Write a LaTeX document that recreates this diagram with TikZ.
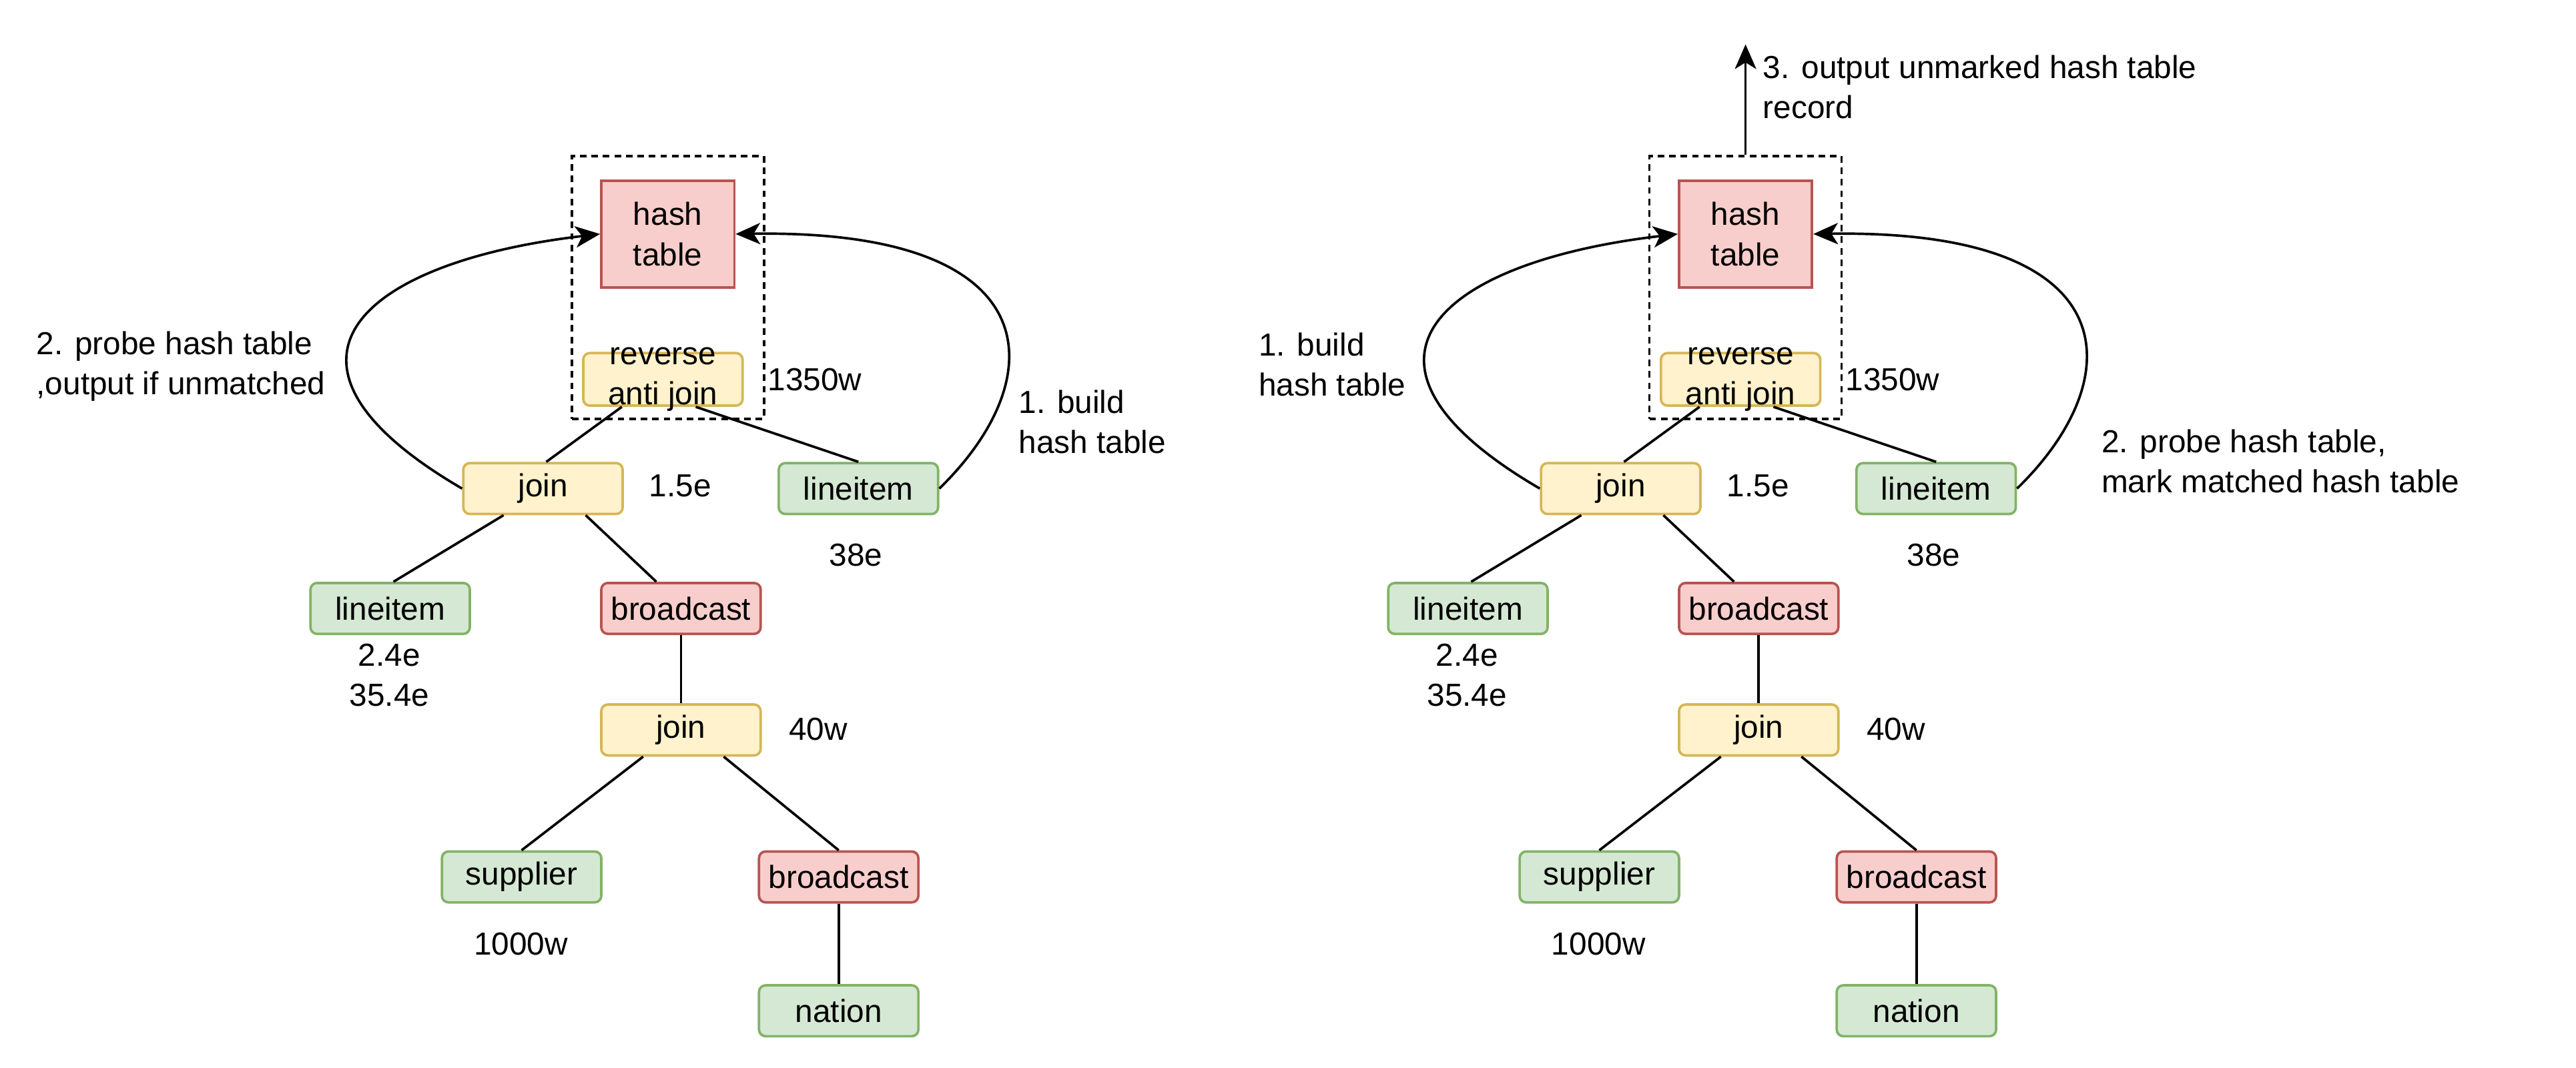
\documentclass[tikz,border=0pt]{standalone}
\usepackage{fontspec}
\setmainfont{Liberation Sans}
\usetikzlibrary{arrows.meta,calc}
\definecolor{rfill}{HTML}{F8CECC}\definecolor{rline}{HTML}{B85450}
\definecolor{yfill}{HTML}{FFF2CC}\definecolor{yline}{HTML}{D6B656}
\definecolor{gfill}{HTML}{D5E8D4}\definecolor{gline}{HTML}{82B366}
\tikzset{
  base/.style={draw, line width=1.5pt, minimum width=97pt, minimum height=31pt, inner sep=0pt, align=center, rounded corners=4pt},
  redbox/.style={base, fill=rfill, draw=rline},
  yelbox/.style={base, fill=yfill, draw=yline},
  grnbox/.style={base, fill=gfill, draw=gline},
  htbox/.style={base, fill=rfill, draw=rline, rounded corners=0pt, minimum width=81pt, minimum height=65pt},
  dashbox/.style={draw, line width=1.5pt, dash pattern=on 4pt off 3pt, minimum width=117pt, minimum height=160pt, inner sep=0pt},
  lbl/.style={inner sep=0pt, align=center},
  lbll/.style={inner sep=0pt, align=left, anchor=west},
  edge/.style={line width=1.5pt},
  arr/.style={line width=1.5pt, -{Stealth[length=15pt,width=13pt,inset=4pt]}}
}
\newcommand\drawtree[2]{%
\begin{scope}[xshift=#2]
  \node[dashbox] (#1dash) at (406.5,175) {};
  \node[htbox] (#1ht) at (406.5,142.5) {hash\\table};
  \node[yelbox, minimum height=32pt, inner ysep=-6pt] (#1rev) at (403.5,231) {reverse\\anti join};
  \node[yelbox] (#1joina) at (330.5,297.5) {join};
  \node[grnbox] (#1lia) at (522.5,297.5) {lineitem};
  \node[grnbox] (#1lib) at (237.5,370.5) {lineitem};
  \node[redbox] (#1bca) at (414.5,370.5) {broadcast};
  \node[yelbox] (#1joinb) at (414.5,444.5) {join};
  \node[grnbox] (#1sup) at (317.5,534) {supplier};
  \node[redbox] (#1bcb) at (510.5,534) {broadcast};
  \node[grnbox] (#1nat) at (510.5,615.5) {nation};
  \node[lbl] (#1n1) at (496,231) {1350w};
  \node[lbl] (#1n2) at (414,296) {1.5e};
  \node[lbl] (#1n3) at (521,338) {38e};
  \node[lbl] (#1n4) at (237,411) {2.4e\\35.4e};
  \node[lbl] (#1n5) at (498,444) {40w};
  \node[lbl] (#1n6) at (317,575) {1000w};
  \draw[edge] ($(#1rev.south)+(-25,0)$) -- ($(#1joina.north)+(2,0)$);
  \draw[edge] ($(#1rev.south)+(20,0)$) -- (#1lia.north);
  \draw[edge] ($(#1joina.south)+(-24,0)$) -- ($(#1lib.north)+(2,0)$);
  \draw[edge] ($(#1joina.south)+(26,0)$) -- ($(#1bca.north)+(-15,0)$);
  \draw[edge] (#1bca) -- (#1joinb);
  \draw[edge] ($(#1joinb.south)+(-23,0)$) -- (#1sup.north);
  \draw[edge] ($(#1joinb.south)+(26,0)$) -- (#1bcb.north);
  \draw[edge] (#1bcb) -- (#1nat);
  \draw[arr] (#1joina.west) .. controls +(-132,-77) and +(-146,17) .. (#1ht.west);
  \draw[arr] (#1lia.east) .. controls +(69,-67) and +(193,-3) .. (#1ht.east);
\end{scope}}
\begin{document}
\begin{tikzpicture}[x=1pt,y=-1pt,font=\fontsize{19.4}{24.5}\selectfont]
  \useasboundingbox[fill=white] (0,0) rectangle (1568,650);
  \drawtree{L}{0pt}
  \drawtree{R}{656pt}
  \node[lbll] (Lt1) at (22,223) {2. probe hash table\\,output if unmatched};
  \node[lbll] (Lt2) at (620,257) {1. build\\hash table};
  \node[lbll] (Rt1) at (766,222) {1. build\\hash table};
  \node[lbll] (Rt2) at (1279,281) {2. probe hash table,\\mark matched hash table};
  \node[lbll] (Rt3) at (1073,53) {3. output unmarked hash table\\record};
  \coordinate (Rout) at (1062.5,27);
  \draw[arr] (Rdash.north) -- (Rout);
\end{tikzpicture}
\end{document}
